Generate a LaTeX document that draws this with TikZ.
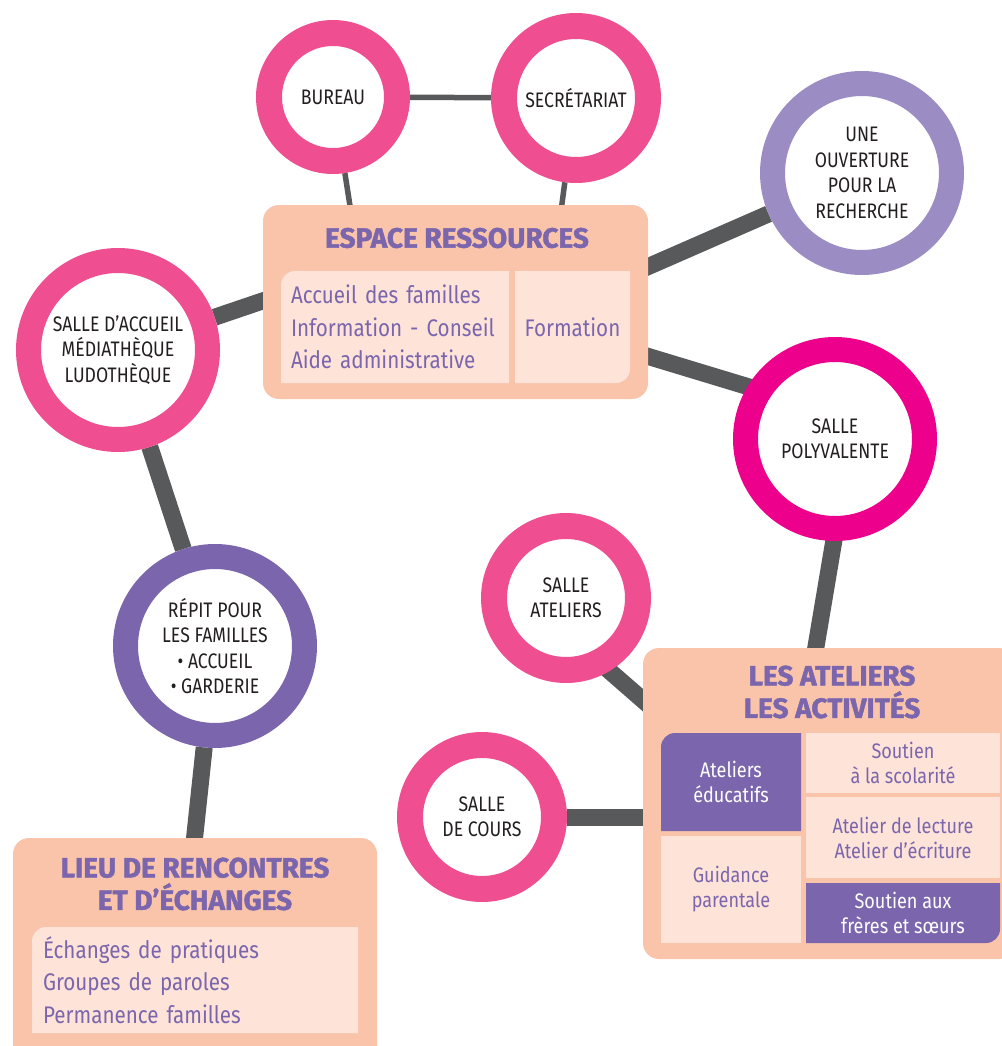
\documentclass[tikz,border=0pt]{standalone}
\usepackage{fontspec}
\setmainfont{Fira Sans}
\newfontfamily\ringfont{Fira Sans}[FakeStretch=0.84]
\newfontfamily\headfont{Fira Sans}[FakeStretch=1.0, FakeBold=1.6]
\newfontfamily\bodyfont{Fira Sans}[FakeStretch=0.86]
\usetikzlibrary{backgrounds}
\definecolor{rose}{HTML}{EF4F91}
\definecolor{fuchsia}{HTML}{EC008C}
\definecolor{lilac}{HTML}{9B8DC3}
\definecolor{violet}{HTML}{7B66AD}
\definecolor{salmon}{HTML}{FAC4AB}
\definecolor{blush}{HTML}{FDE3D8}
\definecolor{wire}{HTML}{58595B}
\definecolor{ink}{HTML}{231F20}

\begin{document}
\begin{tikzpicture}[
        x=1pt, y=-1pt, % one unit = one pixel of the plan
        ring/.style={circle, draw=#1, fill=white, inner sep=0pt, align=center, text=ink,
            font=\ringfont\fontsize{21pt}{25.5pt}\selectfont},
        bigring/.style={ring=#1, line width=25pt, minimum size=179pt},
        smallring/.style={ring=#1, line width=26pt, minimum size=144pt},
        link/.style={draw=wire, line width=17pt}, % thick connector
        thinlink/.style={draw=wire, line width=5.5pt},
        panel/.style={rectangle, fill=salmon, rounded corners=16pt, inner sep=0pt},
        head/.style={text=violet, align=center, font=\headfont\bfseries\fontsize{28pt}{32.5pt}\selectfont},
        pane/.style={rectangle, fill=blush, inner sep=0pt, align=left, text=violet,
            font=\bodyfont\fontsize{24pt}{32.5pt}\selectfont},
        cell/.style={rectangle, fill=blush, inner sep=0pt, align=center, text=violet,
            font=\bodyfont\fontsize{21pt}{25pt}\selectfont},
        darkcell/.style={cell, fill=violet, text=white},
        roundnw/.style={fill=salmon, path picture={\fill[#1] (path picture bounding box.north)
            [rounded corners=14pt] -| (path picture bounding box.west) [sharp corners]
            |- (path picture bounding box.south east) |- (path picture bounding box.north) -- cycle;}},
        roundse/.style={fill=salmon, path picture={\fill[#1] (path picture bounding box.south)
            [rounded corners=14pt] -| (path picture bounding box.east) [sharp corners]
            |- (path picture bounding box.north west) |- (path picture bounding box.south) -- cycle;}},
    ]
    \useasboundingbox (0,0) rectangle (1001,1046);

    % rooms
    \node[ring=rose, line width=26pt, minimum size=128pt] (bureau) at (333,97) {BUREAU};
    \node[smallring=rose] (secr) at (576,98) {SECRÉTARIAT};
    \node[bigring=lilac] (ouverture) at (862,173) {UNE\\OUVERTURE\\POUR LA\\RECHERCHE};
    \node[bigring=rose] (accueil) at (118,350) {SALLE D’ACCUEIL\\MÉDIATHÈQUE\\LUDOTHÈQUE};
    \node[bigring=fuchsia] (polyv) at (835,439) {SALLE\\POLYVALENTE};
    \node[bigring=violet] (repit) at (215,646) {RÉPIT POUR\\LES FAMILLES\\• ACCUEIL\\• GARDERIE};
    \node[smallring=rose] (salleat) at (566,598) {SALLE\\ATELIERS};
    \node[smallring=rose] (cours) at (482,817) {SALLE\\DE COURS};

    % espace ressources
    \node[panel, minimum width=385pt, minimum height=194pt] (espace) at (455.5,302) {};
    \node[head] (espacetitle) at (457,238) {ESPACE RESSOURCES};
    \node[pane, roundnw=blush, minimum width=228pt, minimum height=112pt, text width=208pt] (accueilcell) at (395,327)
        {Accueil des familles\\Information - Conseil\\Aide administrative};
    \node[pane, roundse=blush, align=center, minimum width=115pt, minimum height=112pt] (formation) at (572.5,327) {Formation};

    % ateliers et activites
    \node[panel, minimum width=372pt, minimum height=311pt] (ateliers) at (829,803.5) {};
    \node[head] (atelierstitle) at (832,692) {LES ATELIERS\\LES ACTIVITÉS};
    \node[darkcell, roundnw=violet, minimum width=140pt, minimum height=98pt] (educ) at (731,782) {Ateliers\\éducatifs};
    \node[cell, minimum width=140pt, minimum height=107pt] (guidance) at (731,889.5) {Guidance\\parentale};
    \node[cell, minimum width=194pt, minimum height=60pt] (scol) at (903,763) {Soutien\\à la scolarité};
    \node[cell, minimum width=194pt, minimum height=81pt] (lecture) at (903,837.5) {Atelier de lecture\\Atelier d’écriture};
    \node[darkcell, roundse=violet, minimum width=194pt, minimum height=60pt] (freres) at (903,913) {Soutien aux\\frères et sœurs};

    % lieu de rencontres
    \node[panel, minimum width=364pt, minimum height=227pt] (lieu) at (195,951.5) {};
    \node[head] (lieutitle) at (195,884) {LIEU DE RENCONTRES\\ET D’ÉCHANGES};
    \node[pane, roundnw=blush, minimum width=326pt, minimum height=106pt, text width=304pt] (echanges) at (195,980)
        {Échanges de pratiques\\Groupes de paroles\\Permanence familles};

    % connectors
    \begin{scope}[on background layer]
        \draw[thinlink] (bureau) -- (secr);
        \draw[thinlink] (bureau) -- ([xshift=88.6pt, yshift=-10pt]espace.north west);
        \draw[thinlink] (secr) -- ([xshift=297.7pt, yshift=-10pt]espace.north west);
        \draw[link] (ouverture) -- ([xshift=-12pt, yshift=-67pt]espace.north east);
        \draw[link] ([xshift=-12pt, yshift=-148pt]espace.north east) -- ([yshift=26pt]polyv.center);
        \draw[link] (accueil) -- ([xshift=12pt, yshift=-92pt]espace.north west);
        \draw[link] (accueil) -- (repit);
        \draw[link] (repit) -- ([xshift=180.7pt, yshift=-10pt]lieu.north west);
        \draw[link] ([xshift=16pt]polyv.center) -- ([xshift=171.3pt, yshift=-10pt]ateliers.north west);
        \draw[link] ([yshift=-35pt]salleat.center) -- ([xshift=12pt, yshift=-62.7pt]ateliers.north west);
        \draw[link] (cours) -- (cours -| ateliers.west);
    \end{scope}
\end{tikzpicture}
\end{document}
